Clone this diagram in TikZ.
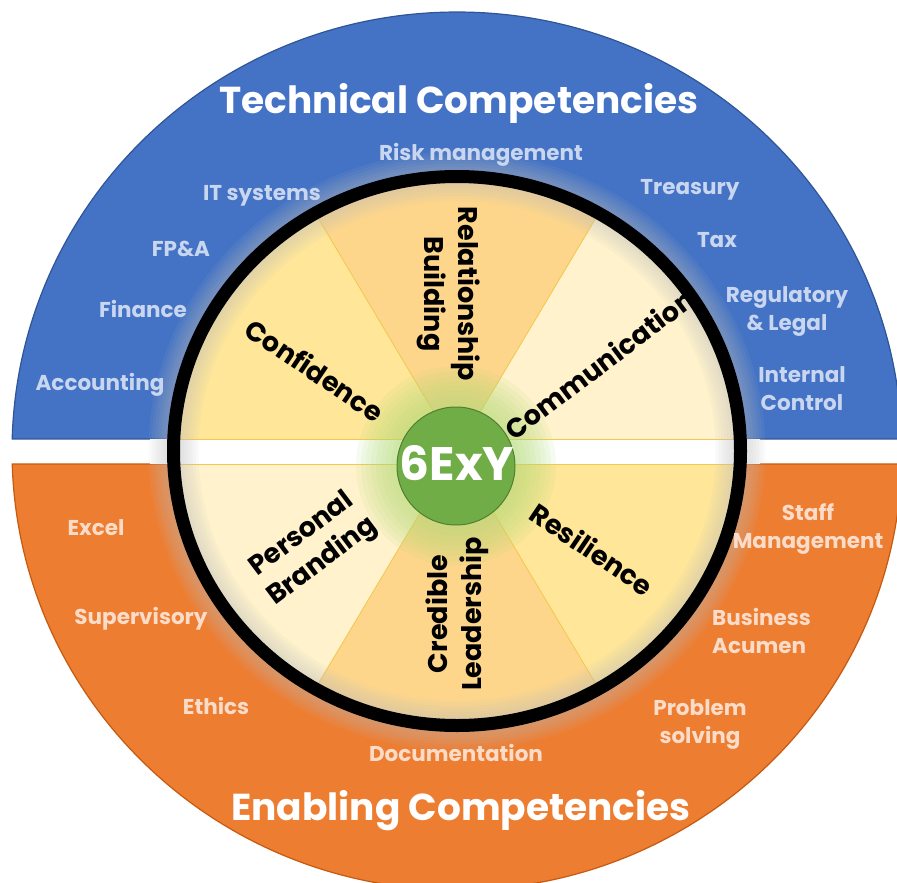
\documentclass[tikz,border=0pt]{standalone}
\usepackage{fontspec}
\setmainfont{Poppins}
\usetikzlibrary{calc}

\definecolor{techblue}{HTML}{4472C4}
\definecolor{techedge}{HTML}{2F5597}
\definecolor{enorange}{HTML}{ED7D31}
\definecolor{enedge}{HTML}{C55A11}
\definecolor{bluetext}{HTML}{C9D6F0}
\definecolor{orangetext}{HTML}{FBDCC9}
\definecolor{secA}{HTML}{FFE699}
\definecolor{secB}{HTML}{FFF2CC}
\definecolor{secC}{HTML}{FDD68B}
\definecolor{secline}{HTML}{F2C94C}
\definecolor{hubgreen}{HTML}{70AD47}
\definecolor{hubedge}{HTML}{507E32}
\definecolor{hubglow}{HTML}{B4DC78}
\definecolor{ringglow}{HTML}{BFBFBF}

\begin{document}
\begin{tikzpicture}[x=1pt,y=-1pt,
  techlabel/.style={text=bluetext, font=\bfseries\fontsize{21.5}{28}\selectfont, align=center, inner sep=0pt, anchor=base},
  enablabel/.style={text=orangetext, font=\bfseries\fontsize{21.5}{28}\selectfont, align=center, inner sep=0pt, anchor=base},
  heading/.style={text=white, font=\bfseries\fontsize{37.5}{44}\selectfont, inner sep=0pt, anchor=base},
  wedgelabel/.style={text=black, font=\bfseries\fontsize{27}{34}\selectfont, align=center, inner sep=0pt},
]
\useasboundingbox (0,0) rectangle (897,883);
\clip (0,0) rectangle (897,883);
\coordinate (c) at (457,451);

% outer half discs
\fill[techblue, draw=techedge, line width=1.2pt] (c) ++(1.57:445pt and 439pt)
  arc[start angle=1.57, end angle=178.43, x radius=445pt, y radius=439pt] -- cycle;
\fill[enorange, draw=enedge, line width=1.2pt] (c) ++(-1.7:445pt and 439pt)
  arc[start angle=-1.7, end angle=-178.3, x radius=445pt, y radius=439pt] -- cycle;

% six wedges of the wheel
\foreach \a/\b/\col in {0/60/secB,60/120/secC,120/180/secA,180/240/secB,240/300/secC,300/360/secA}{
  \fill[\col] (c) -- ++(\a:284pt and 275pt)
    arc[start angle=\a, end angle=\b, x radius=284pt, y radius=275pt] -- cycle;
}
\foreach \a in {60,120,240,300}
  \draw[secline, line width=0.8pt] (c) -- ++(\a:284pt and 275pt);

% white band splitting the two halves
\fill[white] (150,439.4) rectangle (760,463.6);
\draw[secline, line width=0.8pt] (170,439) -- (745,439);
\draw[secline, line width=0.8pt] (170,464) -- (745,464);

% soft gray glow around the rim
\foreach \w in {8,14,...,50}
  \draw[ringglow, opacity=0.08, line width=\w pt] (c) ellipse[x radius=283.5pt, y radius=274.5pt];
% rim
\draw[black, line width=13pt] (c) ellipse[x radius=283.5pt, y radius=274.5pt];

% hub with its glow
\coordinate (h) at (456,466);
\foreach \r in {100,95,...,62}
  \fill[hubglow, opacity=0.11] (h) circle[radius=\r pt];
\node[circle, fill=hubgreen, draw=hubedge, line width=1pt, minimum size=118pt, inner sep=0pt] (hub) at (h) {};
\node[text=white, font=\bfseries\fontsize{47}{50}\selectfont, inner sep=0pt, anchor=base] (hubtext) at (457,480) {6ExY};

% headings
\node[heading] (tech) at (459,113) {Technical Competencies};
\node[heading] (enab) at (461,820) {Enabling Competencies};

% technical competencies
\node[techlabel] (risk) at (481,160) {Risk management};
\node[techlabel] (its) at (262,200) {IT systems};
\node[techlabel] (fpa) at (181,256) {FP\&A};
\node[techlabel] (fin) at (143,317) {Finance};
\node[techlabel] (acc) at (100,390) {Accounting};
\node[techlabel] (tre) at (690,194) {Treasury};
\node[techlabel] (tax) at (717,247) {Tax};
\node[techlabel] (reg) at (787,330) {Regulatory\\\& Legal};
\node[techlabel] (ic) at (802,410) {Internal\\Control};

% enabling competencies
\node[enablabel] (exc) at (96,535) {Excel};
\node[enablabel] (sup) at (141,624) {Supervisory};
\node[enablabel] (eth) at (216,714) {Ethics};
\node[enablabel] (doc) at (456,761) {Documentation};
\node[enablabel] (staff) at (808,548) {Staff\\Management};
\node[enablabel, align=left, anchor=base west] (bus) at (712,653) {Business\\Acumen};
\node[enablabel] (prob) at (700,743) {Problem\\solving};

% wedge labels
\node[wedgelabel, rotate=-90] (rel) at (448.5,294) {Relationship\\Building};
\node[wedgelabel, rotate=37] (com) at (599,364) {Communication};
\node[wedgelabel, rotate=-34] (res) at (592,549) {Resilience};
\node[wedgelabel, rotate=90] (cred) at (457,614) {Credible\\Leadership};
\node[wedgelabel, rotate=37] (pers) at (312.5,548.5) {Personal\\Branding};
\node[wedgelabel, rotate=-34] (conf) at (315,370) {Confidence};
\end{tikzpicture}
\end{document}
